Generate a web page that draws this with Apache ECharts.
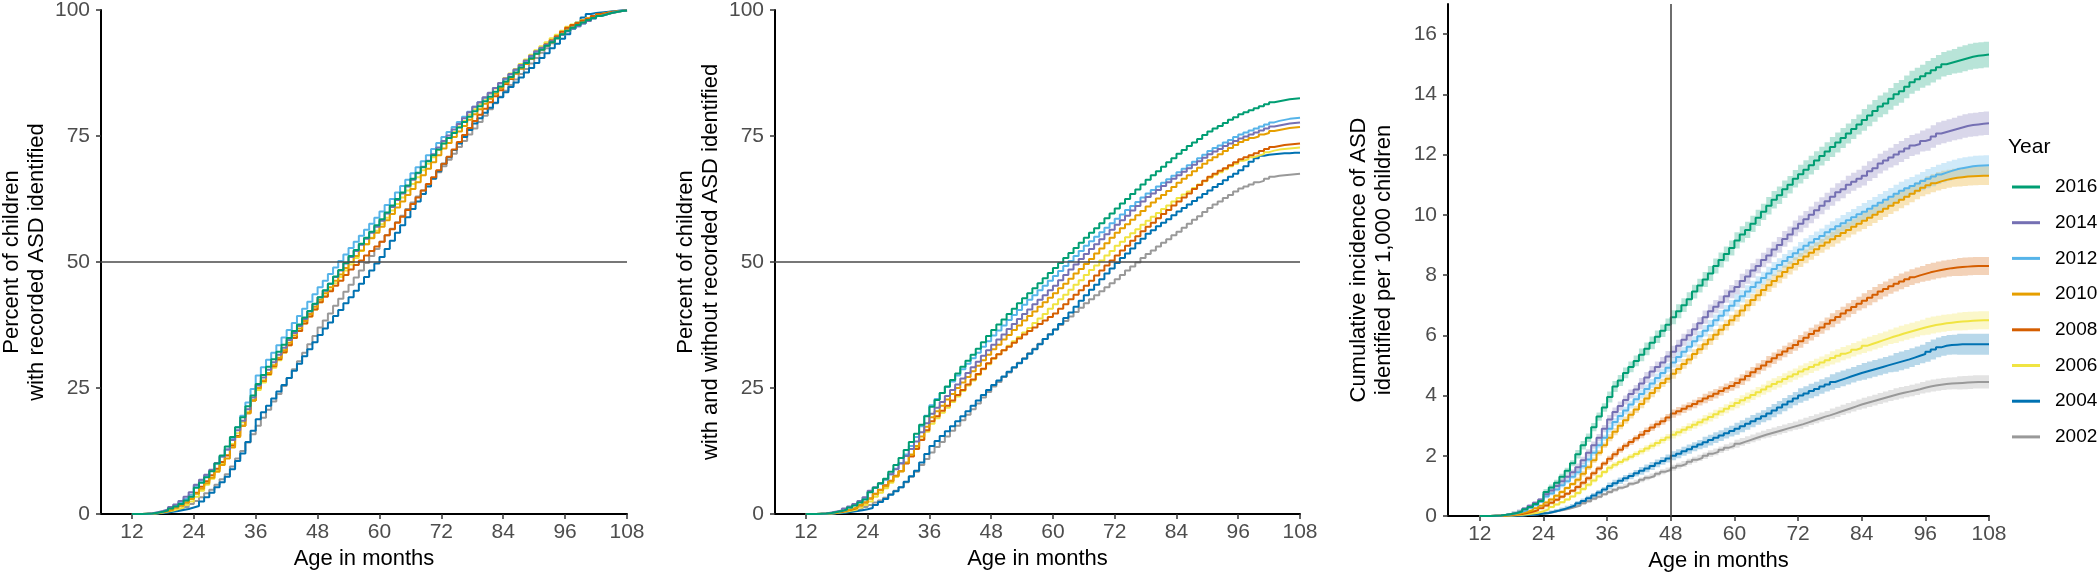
<!DOCTYPE html>
<html><head><meta charset="utf-8">
<script src="https://cdn.jsdelivr.net/npm/echarts@6/dist/echarts.min.js"></script>
<style>html,body{margin:0;padding:0;background:#fff}#c{width:2100px;height:574px}</style>
</head><body><div id="c"></div>
<script>
const months = [12,13,14,15,16,17,18,19,20,21,
22,23,24,25,26,27,28,29,30,31,
32,33,34,35,36,37,38,39,40,41,
42,43,44,45,46,47,48,49,50,51,
52,53,54,55,56,57,58,59,60,61,
62,63,64,65,66,67,68,69,70,71,
72,73,74,75,76,77,78,79,80,81,
82,83,84,85,86,87,88,89,90,91,
92,93,94,95,96,97,98,99,100,101,
102,103,104,105,106,107,108];
const years = ['2016','2014','2012','2010','2008','2006','2004','2002'];
const colors = ['#009E73','#7570B3','#56B4E9','#E69F00','#D55E00','#F0E442','#0072B2','#999999'];
const xTicks = [12,24,36,48,60,72,84,96,108];
const yTicksPct = [0,25,50,75,100];
const yTicksInc = [0,2,4,6,8,10,12,14,16];

// Panel 1: percent of children with recorded ASD identified
const rec2016 = [0,0,0.05,0.1,0.25,0.45,0.7,1.1,1.5,2.0,
2.7,3.4,5.2,6.2,7.3,8.5,10.0,11.6,13.4,15.3,
17.2,19.2,21.4,23.5,25.8,27.6,29.2,30.7,32.2,33.6,
34.9,36.3,37.6,39.0,40.3,41.7,43.0,44.4,45.7,47.1,
48.4,49.8,51.2,52.4,53.6,54.8,56.0,57.3,58.5,59.8,
61.2,62.5,63.8,65.2,66.5,67.7,68.8,70.0,71.2,72.3,
73.5,74.6,75.6,76.7,77.8,78.8,79.9,80.9,81.9,82.8,
83.8,84.8,85.8,86.7,87.6,88.6,89.5,90.4,91.3,92.1,
92.9,93.6,94.4,95.2,95.9,96.5,97.0,97.5,98.0,98.4,
98.8,99.1,99.4,99.6,99.8,99.9,100];
const rec2014 = [0,0,0.05,0.15,0.35,0.6,0.9,1.4,1.9,2.6,
3.4,4.3,5.8,6.8,7.8,8.8,10.1,11.4,12.8,14.7,
16.6,18.5,20.8,23.1,25.5,27.1,28.6,30.1,31.6,33.0,
34.5,35.9,37.3,38.7,40.2,41.6,43.0,44.3,45.7,47.0,
48.3,49.7,51.0,52.2,53.4,54.6,55.8,57.0,58.2,59.6,
60.9,62.3,63.6,65.0,66.3,67.6,68.9,70.1,71.4,72.7,
74.0,75.1,76.3,77.4,78.5,79.7,80.8,81.7,82.7,83.6,
84.5,85.5,86.4,87.3,88.2,89.1,90.0,90.9,91.8,92.5,
93.1,93.8,94.5,95.1,95.8,96.3,96.8,97.3,97.8,98.3,
98.8,99.1,99.4,99.6,99.8,99.9,100];
const rec2012 = [0,0,0.05,0.1,0.3,0.5,0.8,1.2,1.7,2.3,
3.0,3.8,5.6,6.6,7.6,8.7,10.0,11.4,12.8,15.0,
17.2,19.5,22.1,24.8,27.5,29.1,30.6,32.0,33.5,35.0,
36.5,37.9,39.3,40.7,42.1,43.6,45.0,46.3,47.6,48.9,
50.2,51.5,52.8,54.0,55.2,56.4,57.6,58.8,60.0,61.3,
62.5,63.8,65.1,66.3,67.6,68.8,70.0,71.2,72.4,73.6,
74.8,75.8,76.8,77.8,78.8,79.8,80.8,81.7,82.6,83.5,
84.5,85.4,86.3,87.2,88.1,89.0,89.8,90.7,91.6,92.3,
93.0,93.7,94.4,95.1,95.8,96.3,96.8,97.3,97.8,98.3,
98.8,99.1,99.4,99.6,99.8,99.9,100];
const rec2010 = [0,0,0.05,0.1,0.25,0.4,0.6,0.9,1.3,1.7,
2.3,3.0,4.0,5.0,6.1,7.2,8.4,9.7,11.0,13.2,
15.3,17.5,20.0,22.5,25.0,26.5,28.0,29.5,31.0,32.5,
34.0,35.4,36.8,38.3,39.7,41.1,42.5,43.8,45.0,46.3,
47.5,48.8,50.0,51.2,52.3,53.5,54.7,55.8,57.0,58.3,
59.5,60.8,62.0,63.3,64.5,65.8,67.2,68.5,69.8,71.2,
72.5,73.6,74.8,75.9,77.0,78.2,79.3,80.3,81.4,82.4,
83.4,84.5,85.5,86.5,87.4,88.4,89.3,90.3,91.3,92.1,
92.9,93.6,94.4,95.2,96.0,96.5,97.0,97.5,98.0,98.4,
98.9,99.2,99.4,99.6,99.8,99.9,100];
const rec2008 = [0,0,0.05,0.1,0.25,0.4,0.6,0.9,1.3,1.7,
2.3,3.1,4.2,5.4,6.5,7.7,9.0,10.3,11.6,13.6,
15.5,17.5,20.0,22.5,25.0,26.4,27.8,29.3,30.7,32.1,
33.5,34.9,36.3,37.8,39.2,40.6,42.0,43.1,44.2,45.3,
46.3,47.4,48.5,49.4,50.3,51.3,52.2,53.1,54.0,55.3,
56.5,57.8,59.0,60.3,61.5,62.8,64.2,65.5,66.8,68.2,
69.5,70.9,72.3,73.8,75.2,76.6,78.0,79.2,80.4,81.7,
82.9,84.1,85.3,86.3,87.4,88.4,89.4,90.5,91.5,92.3,
93.2,94.0,94.8,95.7,96.5,97.0,97.4,97.9,98.3,98.8,
99.2,99.4,99.6,99.7,99.8,99.9,100];
const rec2006 = [0,0,0.02,0.05,0.15,0.3,0.5,0.7,1.0,1.3,
1.8,2.5,3.4,4.6,5.8,7.0,8.6,10.1,11.7,13.9,
16.0,18.2,20.3,22.5,24.6,26.1,27.6,29.0,30.5,32.0,
33.5,34.9,36.3,37.8,39.2,40.6,42.0,43.3,44.5,45.8,
47.0,48.3,49.5,50.8,52.2,53.5,54.8,56.2,57.5,58.8,
60.2,61.5,62.8,64.2,65.5,66.8,68.2,69.5,70.8,72.2,
73.5,74.6,75.8,76.9,78.0,79.2,80.3,81.3,82.4,83.4,
84.4,85.5,86.5,87.4,88.3,89.3,90.2,91.1,92.0,92.8,
93.6,94.4,95.1,95.9,96.7,97.1,97.5,98.0,98.4,98.8,
99.2,99.4,99.6,99.7,99.8,99.9,100];
const rec2004 = [0,0,0,0.05,0.1,0.2,0.3,0.45,0.6,0.8,
1.0,1.3,1.6,2.5,3.3,4.2,5.3,6.3,7.4,8.9,
10.5,12.0,14.3,16.5,18.8,20.2,21.5,22.9,24.3,25.6,
27.0,28.4,29.8,31.3,32.7,34.1,35.5,36.8,38.0,39.3,
40.5,41.8,43.0,44.3,45.7,47.0,48.3,49.7,51.0,52.6,
54.2,55.8,57.3,58.9,60.5,62.0,63.5,65.0,66.5,68.0,
69.5,70.8,72.2,73.5,74.8,76.2,77.5,78.5,79.6,80.6,
81.6,82.7,83.7,84.7,85.6,86.6,87.6,88.5,89.5,90.5,
91.4,92.4,93.3,94.3,95.2,96.3,97.5,98.5,99.2,99.4,
99.5,99.6,99.7,99.8,99.9,100,100];
const rec2002 = [0,0,0,0.05,0.15,0.25,0.4,0.6,0.8,1.0,
1.4,2.0,2.6,3.3,4.1,4.8,5.8,6.9,7.9,9.4,
11.0,12.5,14.2,15.8,17.5,19.1,20.7,22.3,23.8,25.4,
27.0,28.7,30.3,32.0,33.7,35.3,37.0,38.4,39.8,41.3,
42.7,44.1,45.5,46.9,48.3,49.8,51.2,52.6,54.0,55.3,
56.6,57.9,59.2,60.5,61.8,63.0,64.2,65.4,66.6,67.8,
69.0,70.3,71.5,72.8,74.0,75.3,76.5,77.8,79.0,80.3,
81.5,82.8,84.0,85.1,86.2,87.3,88.3,89.4,90.5,91.5,
92.4,93.4,94.4,95.3,96.3,96.8,97.3,97.8,98.3,98.8,
99.3,99.5,99.7,99.8,99.9,100,100];

// Panel 2: percent of children with and without recorded ASD identified
const all2016 = [0,0,0.04,0.08,0.2,0.4,0.6,0.9,1.3,1.7,
2.3,2.9,4.3,5.2,6.1,7.0,8.4,9.7,11.1,12.7,
14.3,15.9,17.7,19.4,21.3,22.6,24.0,25.3,26.6,27.9,
29.2,30.4,31.6,32.8,34.1,35.3,36.5,37.6,38.6,39.7,
40.7,41.8,42.8,43.8,44.8,45.8,46.8,47.8,48.8,49.8,
50.8,51.8,52.8,53.8,54.8,55.8,56.7,57.7,58.7,59.6,
60.6,61.6,62.5,63.5,64.4,65.4,66.3,67.2,68.0,68.9,
69.8,70.6,71.5,72.2,73.0,73.7,74.4,75.2,75.9,76.5,
77.0,77.6,78.2,78.7,79.3,79.7,80.1,80.5,80.9,81.3,
81.7,81.9,82.1,82.3,82.4,82.5,82.6];
const all2014 = [0,0,0.04,0.1,0.3,0.5,0.7,1.1,1.5,2.0,
2.6,3.3,4.6,5.3,6.1,6.9,7.9,8.9,10.0,11.5,
12.9,14.4,16.2,18.0,19.9,21.1,22.2,23.4,24.6,25.7,
26.9,28.0,29.1,30.2,31.4,32.5,33.6,34.6,35.6,36.7,
37.7,38.7,39.7,40.6,41.6,42.5,43.4,44.4,45.3,46.4,
47.4,48.5,49.5,50.6,51.6,52.6,53.5,54.5,55.5,56.4,
57.4,58.3,59.2,60.2,61.1,62.0,62.9,63.6,64.3,65.1,
65.8,66.5,67.2,67.9,68.6,69.3,70.0,70.7,71.4,71.9,
72.4,73.0,73.5,74.0,74.5,74.9,75.3,75.7,76.1,76.5,
76.9,77.1,77.3,77.5,77.6,77.7,77.8];
const all2012 = [0,0,0.04,0.08,0.2,0.4,0.6,0.9,1.3,1.8,
2.4,3.0,4.4,5.2,6.0,6.8,7.9,9.0,10.1,11.8,
13.5,15.3,17.4,19.5,21.6,22.8,24.0,25.2,26.3,27.5,
28.7,29.8,30.9,32.0,33.2,34.3,35.4,36.4,37.4,38.5,
39.5,40.5,41.5,42.5,43.4,44.4,45.3,46.3,47.2,48.2,
49.2,50.2,51.2,52.2,53.2,54.1,55.0,55.9,56.8,57.7,
58.6,59.4,60.3,61.1,61.9,62.8,63.6,64.3,65.0,65.7,
66.4,67.1,67.8,68.5,69.2,69.9,70.6,71.3,72.0,72.6,
73.1,73.7,74.2,74.8,75.3,75.7,76.1,76.5,76.9,77.3,
77.7,78.0,78.2,78.4,78.5,78.6,78.7];
const all2010 = [0,0,0.04,0.08,0.2,0.3,0.5,0.7,1.0,1.3,
1.8,2.3,3.1,3.9,4.7,5.5,6.5,7.5,8.5,10.2,
11.8,13.5,15.4,17.3,19.2,20.4,21.5,22.7,23.8,25.0,
26.1,27.2,28.3,29.4,30.5,31.6,32.7,33.6,34.6,35.5,
36.5,37.4,38.4,39.3,40.2,41.1,42.0,42.9,43.8,44.8,
45.7,46.7,47.7,48.6,49.6,50.6,51.7,52.7,53.7,54.8,
55.8,56.7,57.5,58.4,59.3,60.1,61.0,61.8,62.6,63.3,
64.1,64.9,65.7,66.5,67.2,68.0,68.7,69.5,70.2,70.8,
71.4,72.0,72.6,73.2,73.8,74.2,74.6,74.9,75.3,75.6,
76.0,76.2,76.4,76.6,76.7,76.8,76.9];
const all2008 = [0,0,0.04,0.08,0.2,0.3,0.4,0.7,0.9,1.2,
1.7,2.3,3.1,4.0,4.8,5.7,6.6,7.6,8.5,10.0,
11.4,12.9,14.7,16.6,18.4,19.4,20.5,21.5,22.5,23.6,
24.6,25.7,26.7,27.8,28.8,29.9,30.9,31.7,32.5,33.2,
34.0,34.8,35.6,36.3,37.0,37.7,38.4,39.1,39.8,40.7,
41.6,42.6,43.5,44.4,45.3,46.3,47.3,48.3,49.3,50.3,
51.3,52.3,53.2,54.2,55.1,56.1,57.0,57.8,58.7,59.5,
60.3,61.2,62.0,62.8,63.6,64.5,65.3,66.1,66.9,67.5,
68.1,68.6,69.2,69.8,70.4,70.8,71.2,71.6,72.0,72.4,
72.8,73.0,73.2,73.3,73.4,73.5,73.5];
const all2006 = [0,0,0.02,0.04,0.1,0.2,0.35,0.5,0.7,0.9,
1.3,1.8,2.5,3.4,4.2,5.1,6.2,7.4,8.5,10.1,
11.6,13.2,14.8,16.3,17.9,19.0,20.1,21.1,22.2,23.3,
24.4,25.5,26.5,27.6,28.7,29.7,30.8,31.7,32.5,33.4,
34.3,35.1,36.0,36.9,37.9,38.8,39.7,40.7,41.6,42.6,
43.5,44.5,45.5,46.4,47.4,48.4,49.3,50.3,51.3,52.2,
53.2,54.0,54.9,55.7,56.5,57.4,58.2,59.0,59.7,60.5,
61.2,62.0,62.7,63.4,64.0,64.7,65.4,66.0,66.7,67.3,
67.8,68.4,69.0,69.5,70.1,70.4,70.8,71.1,71.4,71.8,
72.1,72.3,72.4,72.5,72.6,72.7,72.7];
const all2004 = [0,0,0,0.04,0.07,0.14,0.2,0.3,0.45,0.6,
0.75,0.95,1.2,1.8,2.4,3.0,3.8,4.5,5.3,6.4,
7.5,8.6,10.2,11.9,13.5,14.5,15.5,16.4,17.4,18.4,
19.4,20.4,21.5,22.5,23.6,24.6,25.6,26.5,27.3,28.2,
29.1,29.9,30.8,31.8,32.7,33.7,34.7,35.6,36.6,37.7,
38.9,40.0,41.1,42.3,43.4,44.5,45.5,46.6,47.7,48.7,
49.8,50.8,51.7,52.7,53.7,54.6,55.6,56.3,57.1,57.8,
58.5,59.3,60.0,60.7,61.4,62.1,62.8,63.5,64.2,64.9,
65.5,66.2,66.9,67.5,68.2,69.0,69.9,70.6,71.1,71.3,
71.4,71.5,71.6,71.6,71.7,71.7,71.7];
const all2002 = [0,0,0,0.04,0.1,0.2,0.3,0.4,0.55,0.7,
1.0,1.4,1.8,2.3,2.7,3.2,3.9,4.6,5.3,6.3,
7.4,8.4,9.7,10.9,12.2,13.3,14.3,15.4,16.5,17.5,
18.6,19.7,20.8,21.9,23.1,24.2,25.3,26.2,27.2,28.1,
29.0,30.0,30.9,31.9,32.8,33.8,34.7,35.7,36.6,37.5,
38.3,39.2,40.1,40.9,41.8,42.6,43.4,44.2,45.0,45.8,
46.6,47.4,48.3,49.1,49.9,50.8,51.6,52.3,53.1,53.8,
54.5,55.3,56.0,56.8,57.6,58.4,59.1,59.9,60.7,61.4,
62.0,62.7,63.3,64.0,64.6,65.0,65.4,65.8,66.1,66.5,
66.9,67.1,67.2,67.3,67.4,67.5,67.5];

// Panel 3: cumulative incidence per 1,000 children
const inc2016 = [0,0,0.01,0.02,0.04,0.07,0.1,0.15,0.22,0.3,
0.4,0.5,0.8,0.95,1.1,1.3,1.5,1.75,2.05,2.35,
2.6,2.95,3.3,3.6,3.95,4.3,4.5,4.75,4.95,5.15,
5.35,5.55,5.75,5.95,6.15,6.35,6.6,6.8,7.0,7.2,
7.45,7.65,7.85,8.05,8.3,8.5,8.7,8.9,9.15,9.35,
9.5,9.7,9.9,10.1,10.3,10.5,10.65,10.85,11.0,11.2,
11.35,11.5,11.65,11.8,11.95,12.1,12.25,12.4,12.55,12.7,
12.85,13.0,13.15,13.3,13.45,13.6,13.7,13.85,14.0,14.1,
14.25,14.4,14.5,14.6,14.7,14.8,14.9,15.0,15.05,15.1,
15.15,15.2,15.25,15.28,15.3,15.32,15.33];
const inc2014 = [0,0,0.01,0.02,0.04,0.07,0.11,0.17,0.25,0.34,
0.44,0.55,0.72,0.85,1.0,1.15,1.3,1.45,1.62,1.85,
2.1,2.35,2.6,2.9,3.2,3.45,3.65,3.85,4.05,4.2,
4.4,4.6,4.8,4.95,5.1,5.3,5.45,5.65,5.85,6.0,
6.2,6.4,6.6,6.8,6.95,7.1,7.3,7.45,7.6,7.8,
7.95,8.15,8.3,8.5,8.65,8.85,9.0,9.2,9.35,9.55,
9.7,9.85,10.0,10.15,10.3,10.45,10.6,10.75,10.85,11.0,
11.1,11.2,11.3,11.45,11.55,11.7,11.8,11.9,12.0,12.1,
12.2,12.3,12.35,12.45,12.5,12.6,12.7,12.75,12.8,12.85,
12.9,12.95,12.98,13.0,13.02,13.04,13.05];
const inc2012 = [0,0,0.01,0.02,0.04,0.06,0.09,0.14,0.2,0.27,
0.36,0.47,0.65,0.75,0.88,1.02,1.15,1.3,1.45,1.65,
1.88,2.1,2.35,2.6,2.9,3.12,3.32,3.5,3.7,3.88,
4.05,4.22,4.4,4.58,4.75,4.92,5.1,5.28,5.45,5.62,
5.8,5.97,6.15,6.32,6.5,6.65,6.82,6.98,7.15,7.3,
7.45,7.6,7.75,7.9,8.05,8.2,8.33,8.47,8.6,8.72,
8.85,8.97,9.08,9.2,9.3,9.42,9.52,9.62,9.72,9.82,
9.92,10.02,10.1,10.2,10.3,10.4,10.5,10.6,10.7,10.8,
10.88,10.96,11.04,11.12,11.2,11.27,11.34,11.4,11.46,11.51,
11.55,11.58,11.61,11.63,11.64,11.65,11.65];
const inc2010 = [0,0,0.01,0.02,0.03,0.05,0.07,0.1,0.14,0.19,
0.26,0.34,0.45,0.55,0.67,0.8,0.93,1.06,1.2,1.4,
1.62,1.85,2.1,2.35,2.6,2.8,3.0,3.18,3.36,3.54,
3.72,3.9,4.08,4.25,4.42,4.56,4.72,4.88,5.05,5.2,
5.38,5.54,5.7,5.86,6.02,6.18,6.34,6.5,6.65,6.82,
7.0,7.17,7.33,7.5,7.66,7.8,7.95,8.1,8.24,8.37,
8.5,8.62,8.74,8.86,8.97,9.08,9.19,9.3,9.4,9.5,
9.6,9.7,9.8,9.9,10.0,10.1,10.2,10.3,10.4,10.5,
10.6,10.7,10.8,10.9,10.98,11.05,11.11,11.16,11.2,11.23,
11.25,11.27,11.28,11.29,11.3,11.3,11.3];
const inc2008 = [0,0,0.01,0.01,0.02,0.03,0.05,0.07,0.1,0.14,
0.19,0.26,0.35,0.44,0.54,0.64,0.74,0.84,0.96,1.1,
1.25,1.42,1.58,1.74,1.9,2.05,2.2,2.33,2.46,2.58,
2.7,2.82,2.94,3.05,3.15,3.27,3.4,3.48,3.56,3.64,
3.72,3.81,3.9,3.98,4.06,4.15,4.24,4.32,4.42,4.53,
4.65,4.77,4.89,5.0,5.12,5.24,5.35,5.46,5.57,5.68,
5.8,5.92,6.04,6.15,6.26,6.38,6.5,6.61,6.72,6.83,
6.94,7.05,7.15,7.25,7.35,7.45,7.54,7.63,7.71,7.79,
7.86,7.93,7.99,8.04,8.09,8.13,8.17,8.2,8.23,8.25,
8.27,8.28,8.29,8.3,8.3,8.3,8.3];
const inc2006 = [0,0,0,0.01,0.01,0.02,0.03,0.04,0.06,0.08,
0.11,0.16,0.22,0.3,0.38,0.46,0.55,0.65,0.76,0.9,
1.04,1.18,1.32,1.46,1.6,1.7,1.79,1.88,1.97,2.06,
2.15,2.24,2.33,2.42,2.52,2.61,2.7,2.78,2.86,2.95,
3.03,3.11,3.2,3.29,3.38,3.47,3.56,3.65,3.75,3.84,
3.93,4.02,4.11,4.2,4.3,4.38,4.46,4.55,4.63,4.71,
4.8,4.87,4.95,5.02,5.1,5.17,5.25,5.32,5.39,5.45,
5.52,5.58,5.65,5.71,5.77,5.83,5.89,5.95,6.0,6.06,
6.11,6.16,6.21,6.26,6.3,6.34,6.37,6.4,6.42,6.44,
6.46,6.47,6.48,6.49,6.5,6.5,6.5];
const inc2004 = [0,0,0,0,0.01,0.01,0.02,0.02,0.03,0.04,
0.06,0.08,0.1,0.14,0.18,0.23,0.29,0.35,0.42,0.5,
0.59,0.68,0.78,0.88,1.0,1.09,1.17,1.25,1.33,1.42,
1.5,1.58,1.66,1.75,1.83,1.91,2.0,2.07,2.15,2.22,
2.3,2.37,2.45,2.52,2.6,2.67,2.75,2.82,2.9,2.98,
3.06,3.15,3.23,3.31,3.4,3.5,3.6,3.7,3.8,3.9,
4.0,4.07,4.15,4.22,4.3,4.37,4.45,4.51,4.57,4.63,
4.69,4.75,4.8,4.85,4.9,4.95,5.0,5.05,5.1,5.15,
5.2,5.26,5.32,5.38,5.45,5.53,5.6,5.65,5.68,5.69,
5.7,5.7,5.7,5.7,5.7,5.7,5.7];
const inc2002 = [0,0,0,0,0.01,0.01,0.02,0.02,0.03,0.04,
0.06,0.08,0.1,0.13,0.17,0.21,0.25,0.3,0.35,0.42,
0.49,0.57,0.64,0.72,0.8,0.87,0.94,1.0,1.07,1.13,
1.2,1.27,1.33,1.4,1.47,1.53,1.6,1.67,1.73,1.8,
1.87,1.93,2.0,2.07,2.13,2.2,2.27,2.33,2.4,2.46,
2.52,2.58,2.64,2.7,2.75,2.8,2.85,2.9,2.95,3.0,
3.05,3.11,3.17,3.23,3.29,3.34,3.4,3.46,3.52,3.58,
3.64,3.7,3.75,3.8,3.85,3.9,3.95,4.0,4.05,4.09,
4.13,4.17,4.21,4.26,4.3,4.33,4.36,4.38,4.4,4.41,
4.42,4.43,4.44,4.45,4.45,4.45,4.45];

// Panel 3: half-width of the confidence band (per 1,000), rows of 6 months
const ci2016 = [0.01,0.01,0.01,0.01,0.01,0.01, 0.05,0.05,0.05,0.05,0.05,0.05, 0.1,0.1,0.1,0.1,0.1,0.1, 0.14,0.14,0.14,0.14,0.14,0.14,
0.18,0.18,0.18,0.18,0.18,0.18, 0.21,0.21,0.21,0.21,0.21,0.21, 0.23,0.23,0.23,0.23,0.23,0.23, 0.25,0.25,0.25,0.25,0.25,0.25,
0.27,0.27,0.27,0.27,0.27,0.27, 0.29,0.29,0.29,0.29,0.29,0.29, 0.31,0.31,0.31,0.31,0.31,0.31, 0.33,0.33,0.33,0.33,0.33,0.33,
0.36,0.36,0.36,0.36,0.36,0.36, 0.38,0.38,0.38,0.38,0.38,0.38, 0.41,0.41,0.41,0.41,0.41,0.41, 0.43,0.43,0.43,0.43,0.43,0.43,0.43];
const ci2014 = [0.01,0.01,0.01,0.01,0.01,0.01, 0.05,0.05,0.05,0.05,0.05,0.05, 0.09,0.09,0.09,0.09,0.09,0.09, 0.12,0.12,0.12,0.12,0.12,0.12,
0.15,0.15,0.15,0.15,0.15,0.15, 0.18,0.18,0.18,0.18,0.18,0.18, 0.2,0.2,0.2,0.2,0.2,0.2, 0.22,0.22,0.22,0.22,0.22,0.22,
0.24,0.24,0.24,0.24,0.24,0.24, 0.26,0.26,0.26,0.26,0.26,0.26, 0.28,0.28,0.28,0.28,0.28,0.28, 0.3,0.3,0.3,0.3,0.3,0.3,
0.33,0.33,0.33,0.33,0.33,0.33, 0.35,0.35,0.35,0.35,0.35,0.35, 0.37,0.37,0.37,0.37,0.37,0.37, 0.39,0.39,0.39,0.39,0.39,0.39,0.39];
const ci2012 = [0.01,0.01,0.01,0.01,0.01,0.01, 0.04,0.04,0.04,0.04,0.04,0.04, 0.07,0.07,0.07,0.07,0.07,0.07, 0.1,0.1,0.1,0.1,0.1,0.1,
0.13,0.13,0.13,0.13,0.13,0.13, 0.15,0.15,0.15,0.15,0.15,0.15, 0.17,0.17,0.17,0.17,0.17,0.17, 0.19,0.19,0.19,0.19,0.19,0.19,
0.21,0.21,0.21,0.21,0.21,0.21, 0.23,0.23,0.23,0.23,0.23,0.23, 0.25,0.25,0.25,0.25,0.25,0.25, 0.27,0.27,0.27,0.27,0.27,0.27,
0.29,0.29,0.29,0.29,0.29,0.29, 0.3,0.3,0.3,0.3,0.3,0.3, 0.32,0.32,0.32,0.32,0.32,0.32, 0.33,0.33,0.33,0.33,0.33,0.33,0.33];
const ci2010 = [0.01,0.01,0.01,0.01,0.01,0.01, 0.03,0.03,0.03,0.03,0.03,0.03, 0.06,0.06,0.06,0.06,0.06,0.06, 0.09,0.09,0.09,0.09,0.09,0.09,
0.12,0.12,0.12,0.12,0.12,0.12, 0.14,0.14,0.14,0.14,0.14,0.14, 0.16,0.16,0.16,0.16,0.16,0.16, 0.18,0.18,0.18,0.18,0.18,0.18,
0.2,0.2,0.2,0.2,0.2,0.2, 0.22,0.22,0.22,0.22,0.22,0.22, 0.23,0.23,0.23,0.23,0.23,0.23, 0.25,0.25,0.25,0.25,0.25,0.25,
0.27,0.27,0.27,0.27,0.27,0.27, 0.28,0.28,0.28,0.28,0.28,0.28, 0.3,0.3,0.3,0.3,0.3,0.3, 0.31,0.31,0.31,0.31,0.31,0.31,0.31];
const ci2008 = [0.01,0.01,0.01,0.01,0.01,0.01, 0.03,0.03,0.03,0.03,0.03,0.03, 0.06,0.06,0.06,0.06,0.06,0.06, 0.08,0.08,0.08,0.08,0.08,0.08,
0.1,0.1,0.1,0.1,0.1,0.1, 0.12,0.12,0.12,0.12,0.12,0.12, 0.14,0.14,0.14,0.14,0.14,0.14, 0.16,0.16,0.16,0.16,0.16,0.16,
0.18,0.18,0.18,0.18,0.18,0.18, 0.19,0.19,0.19,0.19,0.19,0.19, 0.21,0.21,0.21,0.21,0.21,0.21, 0.23,0.23,0.23,0.23,0.23,0.23,
0.25,0.25,0.25,0.25,0.25,0.25, 0.26,0.26,0.26,0.26,0.26,0.26, 0.28,0.28,0.28,0.28,0.28,0.28, 0.3,0.3,0.3,0.3,0.3,0.3,0.3];
const ci2006 = [0.01,0.01,0.01,0.01,0.01,0.01, 0.02,0.02,0.02,0.02,0.02,0.02, 0.04,0.04,0.04,0.04,0.04,0.04, 0.07,0.07,0.07,0.07,0.07,0.07,
0.09,0.09,0.09,0.09,0.09,0.09, 0.11,0.11,0.11,0.11,0.11,0.11, 0.13,0.13,0.13,0.13,0.13,0.13, 0.15,0.15,0.15,0.15,0.15,0.15,
0.17,0.17,0.17,0.17,0.17,0.17, 0.19,0.19,0.19,0.19,0.19,0.19, 0.2,0.2,0.2,0.2,0.2,0.2, 0.22,0.22,0.22,0.22,0.22,0.22,
0.24,0.24,0.24,0.24,0.24,0.24, 0.26,0.26,0.26,0.26,0.26,0.26, 0.28,0.28,0.28,0.28,0.28,0.28, 0.3,0.3,0.3,0.3,0.3,0.3,0.3];
const ci2004 = [0.01,0.01,0.01,0.01,0.01,0.01, 0.02,0.02,0.02,0.02,0.02,0.02, 0.05,0.05,0.05,0.05,0.05,0.05, 0.08,0.08,0.08,0.08,0.08,0.08,
0.11,0.11,0.11,0.11,0.11,0.11, 0.13,0.13,0.13,0.13,0.13,0.13, 0.15,0.15,0.15,0.15,0.15,0.15, 0.18,0.18,0.18,0.18,0.18,0.18,
0.2,0.2,0.2,0.2,0.2,0.2, 0.22,0.22,0.22,0.22,0.22,0.22, 0.24,0.24,0.24,0.24,0.24,0.24, 0.26,0.26,0.26,0.26,0.26,0.26,
0.28,0.28,0.28,0.28,0.28,0.28, 0.31,0.31,0.31,0.31,0.31,0.31, 0.33,0.33,0.33,0.33,0.33,0.33, 0.35,0.35,0.35,0.35,0.35,0.35,0.35];
const ci2002 = [0.01,0.01,0.01,0.01,0.01,0.01, 0.02,0.02,0.02,0.02,0.02,0.02, 0.03,0.03,0.03,0.03,0.03,0.03, 0.05,0.05,0.05,0.05,0.05,0.05,
0.07,0.07,0.07,0.07,0.07,0.07, 0.08,0.08,0.08,0.08,0.08,0.08, 0.1,0.1,0.1,0.1,0.1,0.1, 0.11,0.11,0.11,0.11,0.11,0.11,
0.13,0.13,0.13,0.13,0.13,0.13, 0.14,0.14,0.14,0.14,0.14,0.14, 0.15,0.15,0.15,0.15,0.15,0.15, 0.17,0.17,0.17,0.17,0.17,0.17,
0.18,0.18,0.18,0.18,0.18,0.18, 0.19,0.19,0.19,0.19,0.19,0.19, 0.2,0.2,0.2,0.2,0.2,0.2, 0.22,0.22,0.22,0.22,0.22,0.22,0.22];

const recBy = {'2016':rec2016,'2014':rec2014,'2012':rec2012,'2010':rec2010,'2008':rec2008,'2006':rec2006,'2004':rec2004,'2002':rec2002};
const allBy = {'2016':all2016,'2014':all2014,'2012':all2012,'2010':all2010,'2008':all2008,'2006':all2006,'2004':all2004,'2002':all2002};
const incBy = {'2016':inc2016,'2014':inc2014,'2012':inc2012,'2010':inc2010,'2008':inc2008,'2006':inc2006,'2004':inc2004,'2002':inc2002};
const ciBy  = {'2016':ci2016,'2014':ci2014,'2012':ci2012,'2010':ci2010,'2008':ci2008,'2006':ci2006,'2004':ci2004,'2002':ci2002};

const FONT = '"Liberation Sans", Arial, sans-serif';
const pairs = arr => months.map((m, i) => [m, arr[i]]);

function hexA(hex, a) {
  const n = parseInt(hex.slice(1), 16);
  return 'rgba(' + ((n >> 16) & 255) + ',' + ((n >> 8) & 255) + ',' + (n & 255) + ',' + a + ')';
}

function xAxisCfg(gi) {
  return {
    type: 'value', gridIndex: gi, min: 6, max: 108,
    axisLine: { show: true, onZero: false, lineStyle: { color: '#000', width: 2 } },
    axisTick: { show: true, customValues: xTicks, length: 5, lineStyle: { color: '#333', width: 1.5 } },
    axisLabel: { customValues: xTicks, color: '#4d4d4d', fontSize: 21, margin: 8, fontFamily: FONT },
    splitLine: { show: false },
    name: 'Age in months', nameLocation: 'middle', nameGap: 33,
    nameTextStyle: { color: '#000', fontSize: 22, fontFamily: FONT }
  };
}
function yAxisCfg(gi, max, ticks, name) {
  return {
    type: 'value', gridIndex: gi, min: 0, max: max,
    axisLine: { show: true, onZero: false, lineStyle: { color: '#000', width: 2 } },
    axisTick: { show: true, customValues: ticks, length: 5, lineStyle: { color: '#333', width: 1.5 } },
    axisLabel: { customValues: ticks, color: '#4d4d4d', fontSize: 21, margin: 11, fontFamily: FONT },
    splitLine: { show: false },
    name: name, nameLocation: 'middle', nameGap: 52, nameRotate: 90,
    nameTextStyle: { color: '#000', fontSize: 22, lineHeight: 25, fontFamily: FONT }
  };
}

const series = [];
const order = years.slice().reverse(); // draw 2002 first, 2016 on top
// Confidence ribbons (panel 3), stepped polygons through the axis scales
order.forEach(y => {
  const c = colors[years.indexOf(y)];
  const inc = incBy[y], ci = ciBy[y];
  series.push({
    name: 'ci' + y, type: 'custom', xAxisIndex: 2, yAxisIndex: 2, silent: true, z: 1,
    data: [[months[0], 0]],
    renderItem: function (params, api) {
      const up = [], lo = [];
      for (let i = 0; i < months.length; i++) {
        const x0 = months[i];
        const x1 = i < months.length - 1 ? months[i + 1] : months[i];
        const u = inc[i] + ci[i];
        const l = Math.max(0, inc[i] - ci[i]);
        up.push(api.coord([x0, u]), api.coord([x1, u]));
        lo.push(api.coord([x0, l]), api.coord([x1, l]));
      }
      return { type: 'polygon', shape: { points: up.concat(lo.reverse()) },
               style: { fill: hexA(c, 0.28), stroke: null } };
    }
  });
});
// Lines
order.forEach(y => {
  const c = colors[years.indexOf(y)];
  const common = { name: y, type: 'line', step: 'end', symbol: 'none', showSymbol: false,
    lineStyle: { color: c, width: 2 }, itemStyle: { color: c }, z: 3 };
  series.push(Object.assign({}, common, { xAxisIndex: 0, yAxisIndex: 0, data: pairs(recBy[y]) }));
  series.push(Object.assign({}, common, { xAxisIndex: 1, yAxisIndex: 1, data: pairs(allBy[y]) }));
  series.push(Object.assign({}, common, { xAxisIndex: 2, yAxisIndex: 2, data: pairs(incBy[y]) }));
});
const refStyle = { color: '#4a4a4a', width: 1.6, type: 'solid' };
series.push({ name: 'ref1', type: 'line', xAxisIndex: 0, yAxisIndex: 0, data: [], z: 4,
  markLine: { silent: true, symbol: ['none', 'none'], label: { show: false }, lineStyle: refStyle, data: [{ yAxis: 50 }] } });
series.push({ name: 'ref2', type: 'line', xAxisIndex: 1, yAxisIndex: 1, data: [], z: 4,
  markLine: { silent: true, symbol: ['none', 'none'], label: { show: false }, lineStyle: refStyle, data: [{ yAxis: 50 }] } });
series.push({ name: 'ref3', type: 'line', xAxisIndex: 2, yAxisIndex: 2, data: [], z: 4,
  markLine: { silent: true, symbol: ['none', 'none'], label: { show: false }, lineStyle: refStyle, data: [{ xAxis: 48 }] } });

const chart = echarts.init(document.getElementById('c'), null, { renderer: 'canvas', width: 2100, height: 574 });
chart.setOption({
  animation: false,
  backgroundColor: '#ffffff',
  textStyle: { fontFamily: FONT },
  grid: [
    { left: 101, top: 10, width: 526, height: 504, containLabel: false, outerBoundsMode: 'none' },
    { left: 775, top: 10, width: 525, height: 504, containLabel: false, outerBoundsMode: 'none' },
    { left: 1448, top: 4, width: 541, height: 512, containLabel: false, outerBoundsMode: 'none' }
  ],
  xAxis: [xAxisCfg(0), xAxisCfg(1), xAxisCfg(2)],
  yAxis: [
    yAxisCfg(0, 100, yTicksPct, 'Percent of children\nwith recorded ASD identified'),
    yAxisCfg(1, 100, yTicksPct, 'Percent of children\nwith and without recorded ASD identified'),
    yAxisCfg(2, 17, yTicksInc, 'Cumulative incidence of ASD\nidentified per 1,000 children')
  ],
  legend: {
    data: years, orient: 'vertical', left: 2012, top: 177, padding: 0,
    icon: 'rect', itemWidth: 28, itemHeight: 3, itemGap: 15.7,
    textStyle: { fontSize: 19, lineHeight: 20, color: '#000', fontFamily: FONT, padding: [0, 0, 0, 10] }
  },
  graphic: [
    { type: 'text', left: 2008, top: 137, style: { text: 'Year', fontSize: 21, fill: '#000', fontFamily: FONT } }
  ],
  series: series
});
</script>
</body></html>
